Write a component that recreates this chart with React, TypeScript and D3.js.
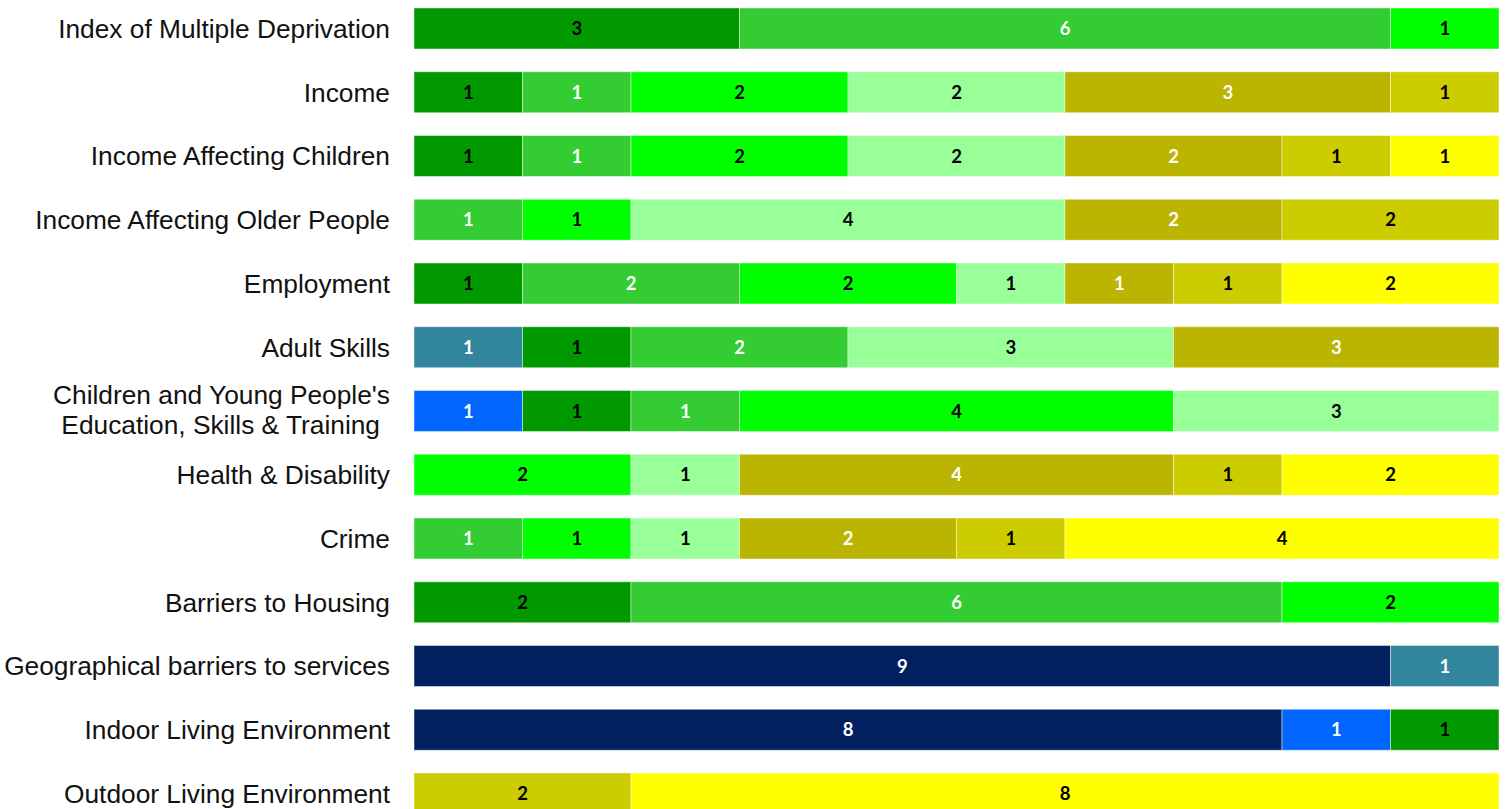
import * as d3 from "d3";

// row labels (top to bottom)
const domains = [
  "Index of Multiple Deprivation",
  "Income",
  "Income Affecting Children",
  "Income Affecting Older People",
  "Employment",
  "Adult Skills",
  "Children and Young People's|Education, Skills & Training",
  "Health & Disability",
  "Crime",
  "Barriers to Housing",
  "Geographical barriers to services",
  "Indoor Living Environment",
  "Outdoor Living Environment",
];

// counts per band, one value per row
const navy = [0, 0, 0, 0, 0, 0, 0, 0, 0, 0, 9, 8, 0];
const blue = [0, 0, 0, 0, 0, 0, 1, 0, 0, 0, 0, 1, 0];
const teal = [0, 0, 0, 0, 0, 1, 0, 0, 0, 0, 1, 0, 0];
const darkGreen = [3, 1, 1, 0, 1, 1, 1, 0, 0, 2, 0, 1, 0];
const midGreen = [6, 1, 1, 1, 2, 2, 1, 0, 1, 6, 0, 0, 0];
const brightGreen = [1, 2, 2, 1, 2, 0, 4, 2, 1, 2, 0, 0, 0];
const lightGreen = [0, 2, 2, 4, 1, 3, 3, 1, 1, 0, 0, 0, 0];
const olive = [0, 3, 2, 2, 1, 3, 0, 4, 2, 0, 0, 0, 0];
const yellowOlive = [0, 1, 1, 2, 1, 0, 0, 1, 1, 0, 0, 0, 2];
const yellow = [0, 0, 1, 0, 2, 0, 0, 2, 4, 0, 0, 0, 8];

const seriesKeys = [
  "navy",
  "blue",
  "teal",
  "darkGreen",
  "midGreen",
  "brightGreen",
  "lightGreen",
  "olive",
  "yellowOlive",
  "yellow",
];
const seriesValues = [navy, blue, teal, darkGreen, midGreen, brightGreen, lightGreen, olive, yellowOlive, yellow];
const seriesColors = ["#002060", "#0066FF", "#31859C", "#009900", "#33CC33", "#00FF00", "#99FF99", "#BBB400", "#CCCC00", "#FFFF00"];
const labelColors = ["#fff", "#fff", "#fff", "#000", "#fff", "#000", "#000", "#fff", "#000", "#000"];

const width = 1505;
const height = 809;

const App = () => {
  const table = domains.map((d, i) => {
    const row: Record<string, any> = { domain: d };
    seriesKeys.forEach((k, j) => (row[k] = seriesValues[j][i]));
    return row;
  });

  const stacked = d3.stack<Record<string, any>>().keys(seriesKeys)(table);

  const xScale = d3.scaleLinear().domain([0, 10]).range([414, 1499]);
  const step = 63.75;
  const yScale = d3
    .scaleBand<string>()
    .domain(domains)
    .range([8 - step * 0.1785, 8 - step * 0.1785 + step * domains.length])
    .paddingInner(0.357)
    .paddingOuter(0.1785);

  return (
    <div style={{ position: "absolute", left: 0, top: 0 }}>
      <svg width={width} height={height} style={{ display: "block" }}>
        <rect width={width} height={height} fill="#fff" />
        {stacked.map((layer, si) => (
          <g key={layer.key} fill={seriesColors[si]}>
            {layer.map((seg, ri) => {
              const v = seg[1] - seg[0];
              if (!v) return null;
              const x0 = xScale(seg[0]);
              const x1 = xScale(seg[1]);
              const y = yScale(domains[ri])!;
              return (
                <g key={ri}>
                  <rect
                    x={x0}
                    y={y}
                    width={x1 - x0}
                    height={yScale.bandwidth()}
                    stroke="#ffffff"
                    strokeOpacity={0.45}
                    strokeWidth={1}
                  />
                  <text
                    x={(x0 + x1) / 2}
                    y={y + yScale.bandwidth() / 2}
                    dy="0.36em"
                    textAnchor="middle"
                    fill={labelColors[si]}
                    fontFamily="Lato, 'Open Sans', sans-serif"
                    fontWeight="bold"
                    fontSize={18.5}
                  >
                    {v}
                  </text>
                </g>
              );
            })}
          </g>
        ))}
        {domains.map((d) => {
          const lines = d.split("|");
          const cy = yScale(d)! + yScale.bandwidth() / 2;
          return (
            <text
              key={d}
              x={390}
              y={cy}
              textAnchor="end"
              fontFamily="'Liberation Sans', Arial, sans-serif"
              fontSize={26.3}
              fill="#111"
            >
              {lines.map((l, i) => (
                <tspan
                  key={i}
                  x={i === 1 ? 380 : 390}
                  dy={lines.length === 1 ? "0.36em" : i === 0 ? "-0.25em" : "1.12em"}
                >
                  {l}
                </tspan>
              ))}
            </text>
          );
        })}
      </svg>
    </div>
  );
};

export default App;
